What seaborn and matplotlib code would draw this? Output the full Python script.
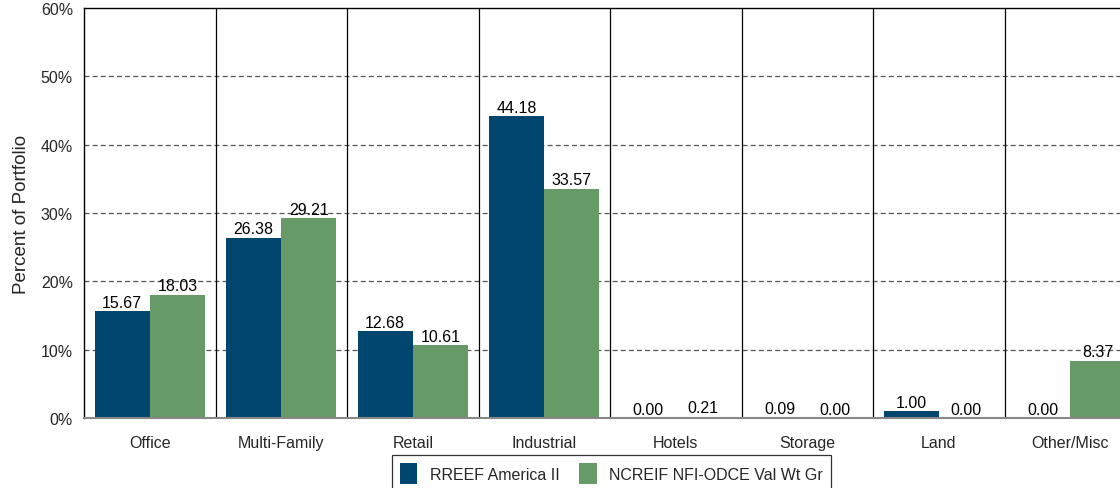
import pandas as pd
import matplotlib
matplotlib.use("Agg")
import matplotlib.pyplot as plt
import seaborn as sns

categories = ["Office", "Multi-Family", "Retail", "Industrial", "Hotels", "Storage", "Land", "Other/Misc"]
series_names = ["RREEF America II", "NCREIF NFI-ODCE Val Wt Gr"]
rreef = [15.67, 26.38, 12.68, 44.18, 0.00, 0.09, 1.00, 0.00]
ncreif = [18.03, 29.21, 10.61, 33.57, 0.21, 0.00, 0.00, 8.37]
colors = ["#00466e", "#669a66"]

df = pd.DataFrame({
    "category": categories * 2,
    "series": [series_names[0]] * len(categories) + [series_names[1]] * len(categories),
    "value": rreef + ncreif,
})

sns.set_style("white")
plt.rcParams['font.family'] = ['Liberation Sans', 'DejaVu Sans']

fig = plt.figure(figsize=(11.2, 4.89), dpi=100)
ax = fig.add_axes([84 / 1120, 70 / 489, (1136 - 84) / 1120, 410 / 489])

sns.barplot(data=df, x="category", y="value", hue="series", order=categories,
            hue_order=series_names, palette=colors, width=0.84, gap=0,
            saturation=1, linewidth=0, ax=ax, legend=True)

for cont in ax.containers:
    ax.bar_label(cont, fmt="%.2f", padding=1, fontsize=11.5, color="black")

ax.set_ylim(0, 60)
ax.set_xlim(-0.5, len(categories) - 0.5)
ax.set_yticks(range(0, 61, 10))
ax.set_yticklabels([f"{v}%" for v in range(0, 61, 10)], fontsize=11.5)
ax.tick_params(axis="x", labelsize=11.5, length=0, pad=12)
ax.tick_params(axis="y", length=0, pad=8)
ax.set_xlabel("")
ax.set_ylabel("Percent of Portfolio", fontsize=13.5, labelpad=8)

# dashed horizontal grid
for v in range(10, 60, 10):
    ax.axhline(v, color="#555555", linestyle=(0, (4, 2.5)), linewidth=0.9, zorder=0)
# category separators
for i in range(1, len(categories)):
    ax.axvline(i - 0.5, color="black", linewidth=0.9, zorder=0)

for s in ["left", "top"]:
    ax.spines[s].set_color("black")
    ax.spines[s].set_linewidth(1)
ax.spines["right"].set_visible(False)
ax.spines["bottom"].set_color("#888888")
ax.spines["bottom"].set_linewidth(1.5)

ax.legend_.remove()
handles, labels = ax.get_legend_handles_labels()
leg = fig.legend(handles[:2], labels[:2], loc="upper center", bbox_to_anchor=(0.546, 0.083),
                 ncol=2, frameon=True, fancybox=False, fontsize=11.5,
                 handlelength=1.1, handleheight=1.6, columnspacing=1.2, borderpad=0.5)
leg.get_frame().set_edgecolor("black")
leg.get_frame().set_linewidth(0.9)

fig.savefig("out.png", dpi=100)
